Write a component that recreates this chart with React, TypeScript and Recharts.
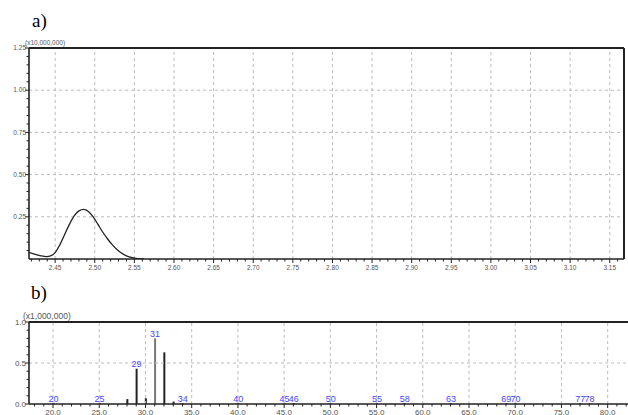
import React from "react";
import {
  ComposedChart,
  Line,
  Bar,
  Cell,
  XAxis,
  YAxis,
  ReferenceLine,
  LabelList,
} from "recharts";

// chromatogram (a)
const timeValues = [
  2.417, 2.425, 2.432, 2.439, 2.445, 2.45, 2.456, 2.462, 2.468, 2.474, 2.48,
  2.486, 2.492, 2.498, 2.504, 2.51, 2.516, 2.522, 2.528, 2.534, 2.54, 2.546,
  2.552, 2.558, 2.562,
];
const intensityValues = [
  0.04, 0.028, 0.019, 0.014, 0.02, 0.038, 0.085, 0.145, 0.205, 0.255, 0.285,
  0.294, 0.282, 0.25, 0.205, 0.16, 0.12, 0.085, 0.056, 0.034, 0.019, 0.01,
  0.004, 0.001, 0,
];
const timeTicks = [
  2.45, 2.5, 2.55, 2.6, 2.65, 2.7, 2.75, 2.8, 2.85, 2.9, 2.95, 3.0, 3.05, 3.1,
  3.15,
];
const intensityTicks = [0.25, 0.5, 0.75, 1.0, 1.25];

// mass spectrum (b)
const mzValues = [
  20, 25, 28, 29, 30, 31, 32, 33, 34, 40, 45, 46, 50, 55, 58, 63, 69, 70, 77, 78,
];
const abundance = [
  0.01, 0.01, 0.06, 0.43, 0.07, 0.8, 0.63, 0.03, 0.01, 0.01, 0.01, 0.01, 0.01,
  0.01, 0.01, 0.01, 0.01, 0.01, 0.01, 0.01,
];
const peakLabels = [
  "20", "25", "", "29", "", "31", "", "", "34", "40", "45", "46", "50", "55",
  "58", "63", "69", "70", "77", "78",
];
const mzTicks = [20, 25, 30, 35, 40, 45, 50, 55, 60, 65, 70, 75, 80];
const abundanceTicks = [0, 0.5, 1.0];

const chromData = timeValues.map((t, i) => ({ t, v: intensityValues[i] }));
const specData = mzValues.map((mz, i) => ({
  mz,
  v: abundance[i],
  label: peakLabels[i],
}));

const isMajor = (v: number, majors: number[]) =>
  majors.some((m) => Math.abs(m - v) < 1e-6);

const range = (from: number, to: number, step: number) => {
  const out: number[] = [];
  for (let v = from; v <= to + 1e-9; v += step) out.push(Math.round(v * 1000) / 1000);
  return out;
};

const AXIS = "#222";
const TICK_TEXT = "#555";
const FONT = "Liberation Sans, Arial, sans-serif";

const makeXTick = (majors: number[], digits: number, fs: number, dy: number) =>
  (props: any) => {
    const { x, y, payload } = props;
    const major = isMajor(payload.value, majors);
    return (
      <g>
        <line x1={x} x2={x} y1={y} y2={y + (major ? 4 : 2.5)} stroke={AXIS} strokeWidth={1} />
        {major && (
          <text x={x} y={y + dy} textAnchor="middle" fontSize={fs} fill={TICK_TEXT} fontFamily={FONT}>
            {payload.value.toFixed(digits)}
          </text>
        )}
      </g>
    );
  };

const makeYTick = (majors: number[], digits: number, fs: number) =>
  (props: any) => {
    const { x, y, payload } = props;
    const major = isMajor(payload.value, majors);
    return (
      <g>
        <line x1={x} x2={x - (major ? 4 : 2.5)} y1={y} y2={y} stroke={AXIS} strokeWidth={1} />
        {major && (
          <text x={x - 3} y={y + fs * 0.35} textAnchor="end" fontSize={fs} fill={TICK_TEXT} fontFamily={FONT}>
            {payload.value.toFixed(digits)}
          </text>
        )}
      </g>
    );
  };

const PeakLabel = (props: any) => {
  const { x, y, width, value } = props;
  if (!value) return null;
  return (
    <text
      x={x + width / 2}
      y={y - 1.5}
      textAnchor="middle"
      fontSize={9}
      fill="#4646ff"
      fontFamily={FONT}
    >
      {value}
    </text>
  );
};

function Chromatogram() {
  const xDomain: [number, number] = [2.417, 3.168];
  return (
    <ComposedChart
      width={628}
      height={280}
      data={chromData}
      margin={{ top: 48, right: 4, bottom: 0, left: 0 }}
    >
      <XAxis
        type="number"
        dataKey="t"
        domain={xDomain}
        allowDataOverflow
        ticks={range(2.42, 3.16, 0.01)}
        interval={0}
        height={21}
        tickSize={0}
        tickMargin={0}
        tickLine={false}
        axisLine={{ stroke: AXIS, strokeWidth: 1.6 }}
        tick={makeXTick(timeTicks, 2, 6.5, 11)}
      />
      <YAxis
        type="number"
        domain={[0, 1.25]}
        allowDataOverflow
        ticks={range(0.05, 1.25, 0.05)}
        interval={0}
        width={29}
        tickSize={0}
        tickMargin={0}
        tickLine={false}
        axisLine={{ stroke: AXIS, strokeWidth: 1.6 }}
        tick={makeYTick(intensityTicks, 2, 6.5)}
      />
      {timeTicks.map((t) => (
        <ReferenceLine key={`vx${t}`} x={t} stroke="#bbb" strokeDasharray="3 3" />
      ))}
      {intensityTicks.slice(0, 4).map((v) => (
        <ReferenceLine key={`hy${v}`} y={v} stroke="#bbb" strokeDasharray="3 3" />
      ))}
      <ReferenceLine y={1.25} stroke={AXIS} strokeWidth={2} />
      <ReferenceLine x={xDomain[1]} stroke={AXIS} strokeWidth={2} />
      <Line
        type="monotone"
        dataKey="v"
        stroke="#222"
        strokeWidth={1.3}
        dot={false}
        isAnimationActive={false}
      />
    </ComposedChart>
  );
}

function Spectrum() {
  const xDomain: [number, number] = [17.4, 82.2];
  return (
    <ComposedChart
      width={628}
      height={125}
      data={specData}
      margin={{ top: 32, right: 0, bottom: 0, left: 0 }}
    >
      <XAxis
        type="number"
        dataKey="mz"
        domain={xDomain}
        allowDataOverflow
        ticks={range(18, 82, 1)}
        interval={0}
        height={11}
        tickSize={0}
        tickMargin={0}
        tickLine={false}
        axisLine={{ stroke: AXIS, strokeWidth: 1.6 }}
        tick={makeXTick(mzTicks, 1, 8, 10.5)}
      />
      <YAxis
        type="number"
        domain={[0, 1]}
        allowDataOverflow
        ticks={range(0, 1, 0.1)}
        interval={0}
        width={29}
        tickSize={0}
        tickMargin={0}
        tickLine={false}
        axisLine={{ stroke: AXIS, strokeWidth: 1.6 }}
        tick={makeYTick(abundanceTicks, 1, 8)}
      />
      {mzTicks.map((t) => (
        <ReferenceLine key={`vm${t}`} x={t} stroke="#bbb" strokeDasharray="3 3" />
      ))}
      <ReferenceLine y={0.5} stroke="#bbb" strokeDasharray="3 3" />
      <ReferenceLine y={1} stroke={AXIS} strokeWidth={2} />
      <Bar dataKey="v" barSize={2} fill="#222" isAnimationActive={false}>
        {specData.map((d, i) => (
          <Cell key={`c${i}`} fill={d.mz === 31 ? "#777" : "#222"} />
        ))}
        <LabelList dataKey="label" content={PeakLabel} />
      </Bar>
    </ComposedChart>
  );
}

export default function App() {
  return (
    <div
      style={{
        position: "absolute",
        left: 0,
        top: 0,
        width: 628,
        height: 415,
        background: "#fff",
        overflow: "hidden",
      }}
    >
      <div style={{ position: "absolute", left: 0, top: 0 }}>
        <Chromatogram />
      </div>
      <div style={{ position: "absolute", left: 0, top: 290 }}>
        <Spectrum />
      </div>
      <svg
        width={628}
        height={415}
        style={{ position: "absolute", left: 0, top: 0, pointerEvents: "none" }}
      >
        <text x={32} y={27} fontSize={19} fontFamily="Liberation Serif, serif" fill="#000">
          a)
        </text>
        <text x={31} y={299} fontSize={19} fontFamily="Liberation Serif, serif" fill="#000">
          b)
        </text>
        <text x={25} y={45} fontSize={6.5} fontFamily={FONT} fill={TICK_TEXT}>
          (x10,000,000)
        </text>
        <text x={23} y={319} fontSize={8.5} fontFamily={FONT} fill={TICK_TEXT}>
          (x1,000,000)
        </text>
      </svg>
    </div>
  );
}
